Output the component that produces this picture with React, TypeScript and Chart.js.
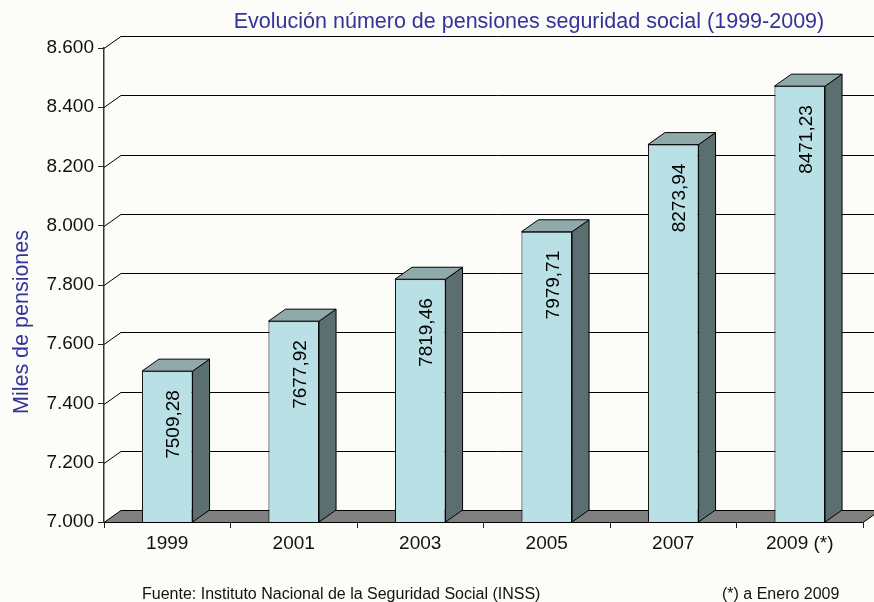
import React, { useEffect, useRef } from "react";
import { Chart, registerables } from "chart.js";

Chart.register(...registerables);

const categories = ["1999", "2001", "2003", "2005", "2007", "2009 (*)"];
const pensiones = [7509.28, 7677.92, 7819.46, 7979.71, 8273.94, 8471.23];
const yMin = 7000;
const yMax = 8600;
const yStep = 200;
const chartTitle = "Evolución número de pensiones seguridad social (1999-2009)";
const yTitle = "Miles de pensiones";
const sourceNote = "Fuente: Instituto Nacional de la Seguridad Social (INSS)";
const asteriskNote = "(*) a Enero 2009";

const DX = 17;
const DY = 12;
const FONT = "'Liberation Sans', Arial, sans-serif";
const COL_FRONT = "#B9E0E4";
const COL_SIDE = "#5B6E70";
const COL_TOP = "#90A9AB";
const COL_FLOOR = "#808080";
const COL_BLUE = "#333399";

const fmtThousands = (v: number) => {
  const th = Math.floor(v / 1000);
  const rest = String(Math.round(v % 1000)).padStart(3, "0");
  return th + "." + rest;
};
const fmtDecimal = (v: number) => v.toFixed(2).replace(".", ",");

const threeD = {
  id: "threeD",
  beforeDraw(chart: any) {
    const ctx = chart.ctx;
    ctx.save();
    ctx.fillStyle = "#FCFCF8";
    ctx.fillRect(0, 0, chart.width, chart.height);
    ctx.restore();
  },
  beforeDatasetsDraw(chart: any) {
    const { ctx, chartArea } = chart;
    const y = chart.scales.y;
    ctx.save();
    ctx.strokeStyle = "#000";
    ctx.lineWidth = 1;
    y.ticks.forEach((t: any) => {
      if (t.value === yMin) return;
      const py = Math.round(y.getPixelForValue(t.value)) + 0.5;
      ctx.beginPath();
      ctx.moveTo(chartArea.left, py);
      ctx.lineTo(chartArea.left + DX, py - DY);
      ctx.lineTo(chart.width, py - DY);
      ctx.stroke();
    });
    const b = Math.round(chartArea.bottom) + 0.5;
    const l = chartArea.left;
    const r = chartArea.right;
    ctx.beginPath();
    ctx.moveTo(l, b);
    ctx.lineTo(r, b);
    ctx.lineTo(r + DX, b - DY);
    ctx.lineTo(l + DX, b - DY);
    ctx.closePath();
    ctx.fillStyle = COL_FLOOR;
    ctx.fill();
    ctx.stroke();
    ctx.restore();
  },
  afterDatasetsDraw(chart: any) {
    const ctx = chart.ctx;
    const meta = chart.getDatasetMeta(0);
    const y = chart.scales.y;
    ctx.save();
    ctx.strokeStyle = "#000";
    ctx.lineWidth = 1;
    meta.data.forEach((el: any, i: number) => {
      const hw = el.width / 2;
      const xl = el.x - hw;
      const xr = el.x + hw;
      const top = el.y;
      const base = y.getPixelForValue(yMin);
      // side face
      ctx.beginPath();
      ctx.moveTo(xr, top);
      ctx.lineTo(xr + DX, top - DY);
      ctx.lineTo(xr + DX, base - DY);
      ctx.lineTo(xr, base);
      ctx.closePath();
      ctx.fillStyle = COL_SIDE;
      ctx.fill();
      ctx.stroke();
      // top face
      ctx.beginPath();
      ctx.moveTo(xl, top);
      ctx.lineTo(xl + DX, top - DY);
      ctx.lineTo(xr + DX, top - DY);
      ctx.lineTo(xr, top);
      ctx.closePath();
      ctx.fillStyle = COL_TOP;
      ctx.fill();
      ctx.stroke();
      // value label
      ctx.save();
      ctx.translate(el.x + 12, top + 19);
      ctx.rotate(-Math.PI / 2);
      ctx.font = `19px ${FONT}`;
      ctx.fillStyle = "#000";
      ctx.textAlign = "right";
      ctx.textBaseline = "alphabetic";
      ctx.fillText(fmtDecimal(pensiones[i]), 0, 0);
      ctx.restore();
    });
    ctx.restore();
  },
  afterDraw(chart: any) {
    const ctx = chart.ctx;
    ctx.save();
    ctx.fillStyle = COL_BLUE;
    ctx.font = `21.5px ${FONT}`;
    ctx.textAlign = "center";
    ctx.textBaseline = "alphabetic";
    ctx.fillText(chartTitle, 529, 28);

    ctx.save();
    ctx.translate(28, 322);
    ctx.rotate(-Math.PI / 2);
    ctx.fillText(yTitle, 0, 0);
    ctx.restore();

    ctx.fillStyle = "#111";
    ctx.font = `16px ${FONT}`;
    ctx.textAlign = "left";
    ctx.fillText(sourceNote, 142, 599);
    ctx.fillText(asteriskNote, 722, 599);
    ctx.restore();
  },
};

export default function App() {
  const ref = useRef<HTMLCanvasElement>(null);
  useEffect(() => {
    document.body.style.margin = "0";
    const chart = new Chart(ref.current as HTMLCanvasElement, {
      type: "bar",
      data: {
        labels: categories,
        datasets: [
          {
            data: pensiones,
            backgroundColor: COL_FRONT,
            borderColor: "#000",
            borderWidth: 1,
            borderSkipped: false,
            barPercentage: 0.4,
            categoryPercentage: 1,
          },
        ],
      },
      options: {
        responsive: false,
        animation: false,
        devicePixelRatio: 1,
        layout: { padding: { top: 48, right: 11, bottom: 36, left: 0 } },
        plugins: {
          legend: { display: false },
          tooltip: { enabled: false },
          title: { display: false },
        },
        scales: {
          x: {
            grid: {
              offset: true,
              drawOnChartArea: false,
              drawTicks: true,
              tickLength: 6,
              color: "#222",
            },
            border: { display: true, color: "#222", width: 1 },
            ticks: {
              color: "#111",
              font: { family: FONT, size: 19 },
              padding: 4,
              maxRotation: 0,
            },
            afterFit(scale: any) {
              scale.height = 44;
            },
          },
          y: {
            min: yMin,
            max: yMax,
            grid: {
              drawOnChartArea: false,
              drawTicks: true,
              tickLength: 6,
              color: "#222",
            },
            border: { display: true, color: "#333", width: 1.5 },
            ticks: {
              stepSize: yStep,
              color: "#111",
              font: { family: FONT, size: 19 },
              padding: 4,
              callback: (v: any) => fmtThousands(Number(v)),
            },
            afterFit(scale: any) {
              scale.width = 104;
            },
          },
        },
      },
      plugins: [threeD],
    });
    return () => chart.destroy();
  }, []);
  return (
    <canvas
      ref={ref}
      width={874}
      height={602}
      style={{ display: "block", width: 874, height: 602 }}
    />
  );
}
